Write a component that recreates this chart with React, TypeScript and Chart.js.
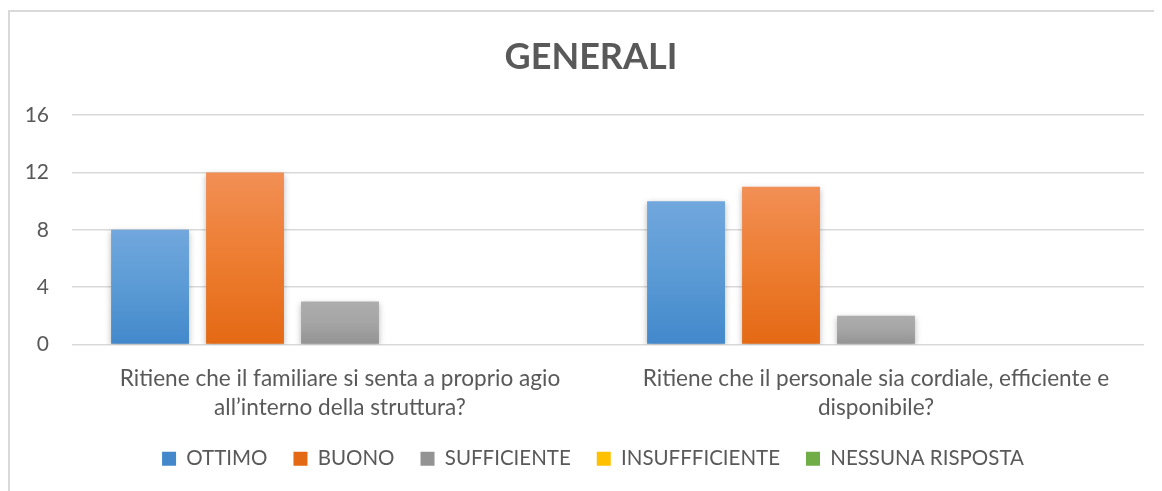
import React, { useEffect, useRef } from "react";
import { Chart, registerables } from "chart.js";

Chart.register(...registerables);

const categories: string[][] = [
  ["Ritiene che il familiare si senta a proprio agio", "all’interno della struttura?"],
  ["Ritiene che il personale sia cordiale, efficiente e", "disponibile?"],
];
const seriesNames = ["OTTIMO", "BUONO", "SUFFICIENTE", "INSUFFFICIENTE", "NESSUNA RISPOSTA"];
const ottimo = [8, 10];
const buono = [12, 11];
const sufficiente = [3, 2];
const insufficiente = [0, 0];
const nessunaRisposta = [0, 0];
const yTicks = [0, 4, 8, 12, 16];

const seriesValues = [ottimo, buono, sufficiente, insufficiente, nessunaRisposta];
const colorTop = ["#71a7dd", "#f28f55", "#adadad", "#ffcd33", "#70ad47"];
const colorBottom = ["#4288cb", "#e46914", "#939393", "#f5b800", "#70ad47"];
const colorMid = ["#5b9bd5", "#ed7d31", "#a5a5a5", "#ffc000", "#70ad47"];

const FONT = "Lato, 'Noto Sans', sans-serif";
const TEXT = "#595959";

export default function App() {
  const ref = useRef<HTMLCanvasElement | null>(null);
  useEffect(() => {
    if (!ref.current) return;
    const shadowPlugin = {
      id: "barShadow",
      beforeDatasetsDraw(chart: any) {
        const ctx = chart.ctx;
        ctx.save();
        ctx.shadowColor = "rgba(0,0,0,0.28)";
        ctx.shadowBlur = 6;
        ctx.shadowOffsetY = 2;
      },
      afterDatasetsDraw(chart: any) {
        chart.ctx.restore();
      },
    };
    const boxShift = {
      id: "boxShift",
      afterLayout(chart: any) {
        const lg = chart.legend;
        if (lg) {
          lg.top -= 19;
          lg.bottom -= 19;
          lg.left += 12;
          lg.right += 12;
        }
        const tb = chart.titleBlock;
        if (tb) {
          tb.left += 10;
          tb.right += 10;
        }
      },
    };
    const chart = new Chart(ref.current, {
      type: "bar",
      data: {
        labels: categories,
        datasets: seriesNames.map((name, i) => ({
          label: name,
          data: seriesValues[i],
          backgroundColor: (c: any) => {
            if (c.type !== "data") return colorMid[i];
            const ys = c.chart.scales.y;
            if (!ys) return colorMid[i];
            const top = ys.getPixelForValue(c.raw);
            const base = ys.getPixelForValue(0);
            if (!isFinite(top) || !isFinite(base) || top === base) return colorMid[i];
            const g = c.chart.ctx.createLinearGradient(0, top, 0, base);
            g.addColorStop(0, colorTop[i]);
            g.addColorStop(0.5, colorMid[i]);
            g.addColorStop(1, colorBottom[i]);
            return g;
          },
          borderWidth: 0,
          categoryPercentage: 0.886,
          barPercentage: 0.82,
        })),
      },
      options: {
        animation: false,
        responsive: false,
        layout: { padding: { left: 8, right: 18, top: 10, bottom: -7 } },
        plugins: {
          title: {
            display: true,
            text: "GENERALI",
            color: TEXT,
            font: { family: FONT, size: 36, weight: "bold" },
            padding: { top: 14, bottom: 36 },
          },
          legend: {
            position: "bottom",
            labels: {
              color: TEXT,
              font: { family: FONT, size: 20.5 },
              boxWidth: 14,
              boxHeight: 14,
              padding: 26,
            },
          },
          tooltip: { enabled: false },
        },
        scales: {
          x: {
            grid: { display: false, drawTicks: false },
            border: { display: false },
            ticks: {
              color: TEXT,
              font: { family: FONT, size: 22.6, lineHeight: "29px" },
              padding: 19.5,
              maxRotation: 0,
              autoSkip: false,
            },
          },
          y: {
            min: 0,
            max: 16,
            afterBuildTicks: (s: any) => {
              s.ticks = yTicks.map((v) => ({ value: v }));
            },
            afterFit: (s: any) => {
              s.width = 54;
            },
            grid: { color: "#d9d9d9", lineWidth: 1.5, drawTicks: false },
            border: { display: false },
            ticks: {
              color: TEXT,
              font: { family: FONT, size: 21 },
              padding: 23,
            },
          },
        },
      },
      plugins: [shadowPlugin, boxShift],
    } as any);
    return () => chart.destroy();
  }, []);
  return (
    <div style={{ paddingTop: 2 }}>
      <div
        style={{
          borderTop: "2px solid #d9d9d9",
          borderLeft: "2px solid #d9d9d9",
          width: 1152,
          height: 479,
          overflow: "hidden",
        }}
      >
        <canvas ref={ref} width={1152} height={479} style={{ display: "block" }} />
      </div>
    </div>
  );
}
